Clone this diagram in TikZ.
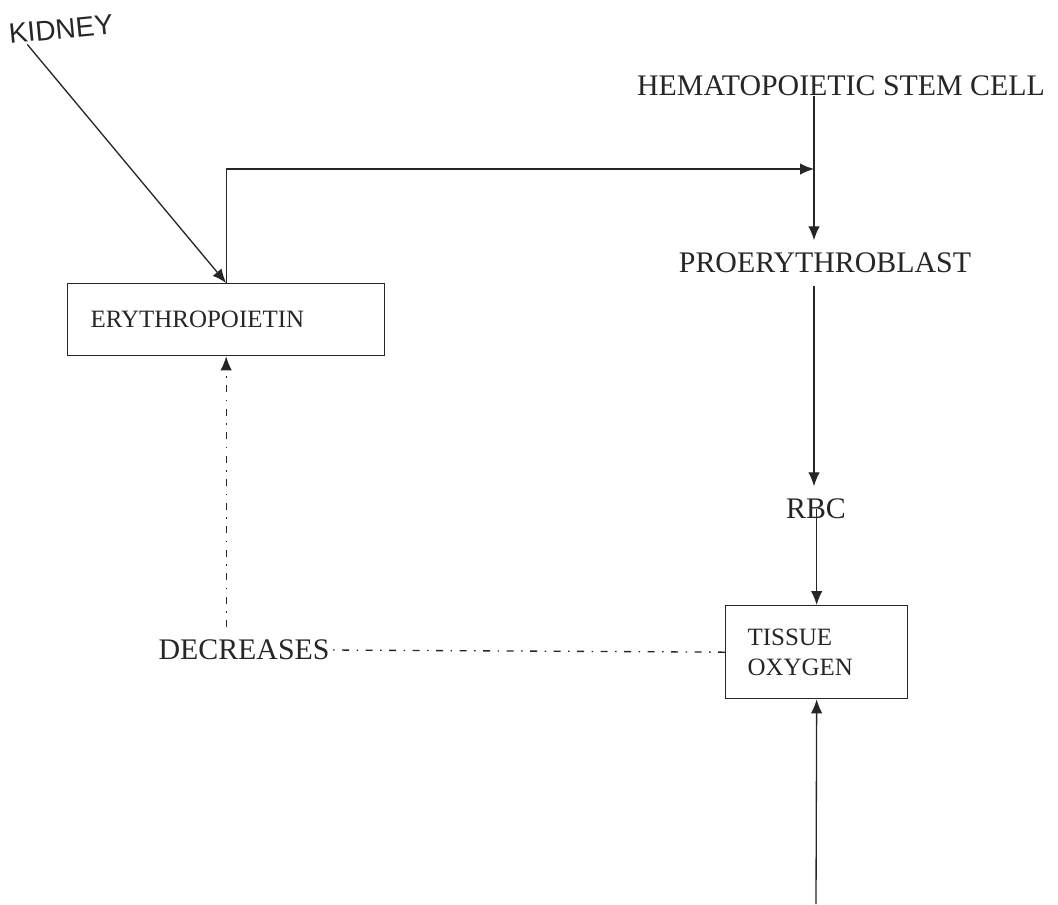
\documentclass[tikz,border=0pt]{standalone}
\usepackage{fontspec}
\setmainfont{Liberation Serif}
\newfontfamily\kidneyfont{Liberation Sans}
\usetikzlibrary{arrows.meta}
\tikzset{>={Latex[length=2.8mm,width=2.3mm]}}

\begin{document}
\begin{tikzpicture}[x=0.2mm, y=-0.2mm, line width=0.75pt, color=black!85,
    label/.style={font=\fontsize{17}{20}\selectfont, inner sep=2.4mm},
    box/.style={draw, anchor=north west, font=\fontsize{14.2}{17}\selectfont,
        align=left, inner ysep=0pt},
    dashdot/.style={dash pattern=on 1.4mm off 1.5mm on 0.3mm off 1.5mm}]
    \useasboundingbox (0,0) rectangle (1058,904);
    % labels
    \node[font=\kidneyfont\fontsize{16}{18}\selectfont, rotate=5.5, inner sep=0pt] (kidney) at (61,29) {KIDNEY};
    \node[label] (hsc) at (841,86) {HEMATOPOIETIC STEM CELL};
    \node[label] (pro) at (825,263) {PROERYTHROBLAST};
    \node[label] (rbc) at (816,509) {RBC};
    \node[label, inner sep=0pt] (dec) at (244,650) {DECREASES};
    % boxes
    \node[box, inner xsep=4.6mm, text width=54.2mm, minimum height=14.4mm] (ery) at (67,283) {ERYTHROPOIETIN\\[1mm]};
    \node[box, inner xsep=4.4mm, text width=27.6mm, minimum height=18.6mm] (tis) at (725,605) {TISSUE\\OXYGEN};
    \coordinate (join) at (814,169);
    \coordinate (bottom) at (816,904);
    % arrows
    \draw[->] ([xshift=3.6mm]kidney.south west) -- (ery.north);
    \draw[->] (ery.north) |- (join);
    \draw[->] (hsc.base -| join) -- (pro.north -| join);
    \draw[->] (pro.south -| join) -- (rbc.north -| join);
    \draw[->] (rbc.center -| tis.north) -- (tis.north);
    \draw[->] (bottom) -- (tis.south);
    % feedback
    \draw[dashdot] (tis.west) -- (dec.east);
    \draw[dashdot, ->] ([yshift=2.4mm]dec.north -| ery.south) -- (ery.south);
\end{tikzpicture}
\end{document}
